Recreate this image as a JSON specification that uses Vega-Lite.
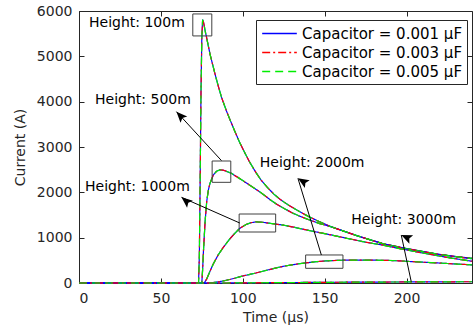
{
 "$schema": "https://vega.github.io/schema/vega-lite/v6.json",
 "width": 393,
 "height": 272,
 "autosize": {"type": "none"},
 "padding": {"left": 79, "top": 11, "right": 1, "bottom": 48},
 "background": "white",
 "config": {
  "font": "DejaVu Sans",
  "view": {"stroke": null},
  "axis": {"grid": false, "domainColor": "#262626", "tickColor": "#262626", "labelColor": "#262626", "titleColor": "#262626", "labelFont": "DejaVu Sans", "titleFont": "DejaVu Sans", "labelFontSize": 14, "titleFontSize": 14, "titleFontWeight": "normal", "tickSize": -5, "domainWidth": 1, "tickWidth": 1},
  "legend": {"title": null, "orient": "none", "legendX": 177, "legendY": 9, "symbolType": "M-2,0H2", "symbolSize": 300, "symbolOffset": 10, "labelOffset": 13, "symbolStrokeWidth": 1.5, "labelFontSize": 15, "labelFont": "DejaVu Sans", "labelColor": "black", "labelLimit": 400, "strokeColor": "#262626", "fillColor": "white", "padding": 4, "rowPadding": 1}
 },
 "datasets": {
  "curves": [
   {"h":"100m","t":0,"a":0,"b":0,"c":0},
   {"h":"100m","t":73,"a":0,"b":0,"c":0},
   {"h":"100m","t":73.5,"a":600,"b":600,"c":600},
   {"h":"100m","t":74,"a":2300,"b":2300,"c":2300},
   {"h":"100m","t":74.5,"a":4200,"b":4200,"c":4200},
   {"h":"100m","t":75,"a":5400,"b":5400,"c":5400},
   {"h":"100m","t":75.5,"a":5810,"b":5810,"c":5810},
   {"h":"100m","t":76,"a":5760,"b":5760,"c":5760},
   {"h":"100m","t":77,"a":5570,"b":5570,"c":5570},
   {"h":"100m","t":78,"a":5400,"b":5400,"c":5400},
   {"h":"100m","t":80,"a":5050,"b":5050,"c":5050},
   {"h":"100m","t":83,"a":4620,"b":4620,"c":4620},
   {"h":"100m","t":85,"a":4350,"b":4350,"c":4350},
   {"h":"100m","t":87,"a":4100,"b":4100,"c":4100},
   {"h":"100m","t":90,"a":3800,"b":3800,"c":3800},
   {"h":"100m","t":92,"a":3620,"b":3620,"c":3620},
   {"h":"100m","t":95,"a":3360,"b":3360,"c":3360},
   {"h":"100m","t":98,"a":3110,"b":3110,"c":3110},
   {"h":"100m","t":101,"a":2890,"b":2890,"c":2890},
   {"h":"100m","t":104,"a":2680,"b":2680,"c":2680},
   {"h":"100m","t":108,"a":2440,"b":2440,"c":2440},
   {"h":"100m","t":111,"a":2280,"b":2280,"c":2280},
   {"h":"100m","t":115,"a":2110,"b":2110,"c":2110},
   {"h":"100m","t":119,"a":1960,"b":1960,"c":1960},
   {"h":"100m","t":123,"a":1840,"b":1840,"c":1840},
   {"h":"100m","t":127,"a":1740,"b":1740,"c":1740},
   {"h":"100m","t":133,"a":1610,"b":1610,"c":1610},
   {"h":"100m","t":140,"a":1470,"b":1470,"c":1470},
   {"h":"100m","t":147,"a":1350,"b":1350,"c":1350},
   {"h":"100m","t":154,"a":1240,"b":1240,"c":1240},
   {"h":"100m","t":162,"a":1140,"b":1140,"c":1140},
   {"h":"100m","t":170,"a":1040,"b":1040,"c":1040},
   {"h":"100m","t":178,"a":950,"b":950,"c":950},
   {"h":"100m","t":185,"a":875,"b":875,"c":875},
   {"h":"100m","t":192,"a":820,"b":820,"c":820},
   {"h":"100m","t":200,"a":760,"b":760,"c":760},
   {"h":"100m","t":211,"a":690,"b":690,"c":690},
   {"h":"100m","t":220,"a":630,"b":630,"c":630},
   {"h":"100m","t":230,"a":585,"b":585,"c":585},
   {"h":"100m","t":240,"a":545,"b":545,"c":545},
   {"h":"500m","t":0,"a":0,"b":0,"c":0},
   {"h":"500m","t":75,"a":0,"b":0,"c":0},
   {"h":"500m","t":75.5,"a":300,"b":300,"c":300},
   {"h":"500m","t":76,"a":700,"b":700,"c":700},
   {"h":"500m","t":77,"a":1350,"b":1350,"c":1350},
   {"h":"500m","t":78,"a":1800,"b":1800,"c":1800},
   {"h":"500m","t":79,"a":2050,"b":2050,"c":2050},
   {"h":"500m","t":80,"a":2200,"b":2200,"c":2200},
   {"h":"500m","t":82,"a":2380,"b":2380,"c":2380},
   {"h":"500m","t":84,"a":2465,"b":2465,"c":2465},
   {"h":"500m","t":86,"a":2495,"b":2495,"c":2495},
   {"h":"500m","t":88,"a":2490,"b":2490,"c":2490},
   {"h":"500m","t":90,"a":2465,"b":2465,"c":2465},
   {"h":"500m","t":93,"a":2420,"b":2420,"c":2420},
   {"h":"500m","t":97,"a":2330,"b":2330,"c":2330},
   {"h":"500m","t":100,"a":2260,"b":2260,"c":2260},
   {"h":"500m","t":105,"a":2140,"b":2140,"c":2140},
   {"h":"500m","t":110,"a":2020,"b":2020,"c":2020},
   {"h":"500m","t":113,"a":1940,"b":1940,"c":1940},
   {"h":"500m","t":117,"a":1830,"b":1830,"c":1830},
   {"h":"500m","t":121,"a":1730,"b":1730,"c":1730},
   {"h":"500m","t":125,"a":1650,"b":1650,"c":1650},
   {"h":"500m","t":130,"a":1550,"b":1550,"c":1550},
   {"h":"500m","t":135,"a":1470,"b":1470,"c":1470},
   {"h":"500m","t":140,"a":1400,"b":1400,"c":1400},
   {"h":"500m","t":147,"a":1310,"b":1310,"c":1310},
   {"h":"500m","t":154,"a":1240,"b":1240,"c":1240},
   {"h":"500m","t":162,"a":1140,"b":1140,"c":1140},
   {"h":"500m","t":170,"a":1040,"b":1040,"c":1040},
   {"h":"500m","t":178,"a":950,"b":950,"c":950},
   {"h":"500m","t":185,"a":875,"b":875,"c":875},
   {"h":"500m","t":192,"a":815,"b":815,"c":815},
   {"h":"500m","t":200,"a":755,"b":755,"c":755},
   {"h":"500m","t":211,"a":685,"b":685,"c":685},
   {"h":"500m","t":220,"a":630,"b":630,"c":630},
   {"h":"500m","t":230,"a":580,"b":580,"c":580},
   {"h":"500m","t":240,"a":535,"b":535,"c":535},
   {"h":"1000m","t":0,"a":0,"b":0,"c":0},
   {"h":"1000m","t":76.5,"a":0,"b":0,"c":0},
   {"h":"1000m","t":78,"a":90,"b":90,"c":90},
   {"h":"1000m","t":80,"a":260,"b":260,"c":260},
   {"h":"1000m","t":82,"a":420,"b":420,"c":420},
   {"h":"1000m","t":85,"a":620,"b":620,"c":620},
   {"h":"1000m","t":88,"a":780,"b":780,"c":780},
   {"h":"1000m","t":92,"a":970,"b":970,"c":970},
   {"h":"1000m","t":95,"a":1090,"b":1090,"c":1090},
   {"h":"1000m","t":98,"a":1200,"b":1200,"c":1200},
   {"h":"1000m","t":102,"a":1290,"b":1290,"c":1290},
   {"h":"1000m","t":105,"a":1330,"b":1330,"c":1330},
   {"h":"1000m","t":108,"a":1348,"b":1348,"c":1348},
   {"h":"1000m","t":112,"a":1340,"b":1340,"c":1340},
   {"h":"1000m","t":118,"a":1310,"b":1310,"c":1310},
   {"h":"1000m","t":125,"a":1275,"b":1275,"c":1275},
   {"h":"1000m","t":130,"a":1240,"b":1240,"c":1240},
   {"h":"1000m","t":135,"a":1200,"b":1200,"c":1200},
   {"h":"1000m","t":145,"a":1125,"b":1125,"c":1125},
   {"h":"1000m","t":154,"a":1060,"b":1060,"c":1060},
   {"h":"1000m","t":165,"a":975,"b":975,"c":975},
   {"h":"1000m","t":175,"a":900,"b":900,"c":900},
   {"h":"1000m","t":185,"a":840,"b":840,"c":840},
   {"h":"1000m","t":195,"a":765,"b":765,"c":765},
   {"h":"1000m","t":205,"a":695,"b":695,"c":695},
   {"h":"1000m","t":220,"a":595,"b":595,"c":595},
   {"h":"1000m","t":230,"a":535,"b":535,"c":535},
   {"h":"1000m","t":240,"a":480,"b":480,"c":480},
   {"h":"2000m","t":0,"a":0,"b":0,"c":0},
   {"h":"2000m","t":79,"a":0,"b":0,"c":0},
   {"h":"2000m","t":82,"a":10,"b":10,"c":10},
   {"h":"2000m","t":86,"a":30,"b":30,"c":30},
   {"h":"2000m","t":90,"a":60,"b":60,"c":60},
   {"h":"2000m","t":95,"a":105,"b":105,"c":105},
   {"h":"2000m","t":100,"a":155,"b":155,"c":155},
   {"h":"2000m","t":105,"a":195,"b":195,"c":195},
   {"h":"2000m","t":108,"a":220,"b":220,"c":220},
   {"h":"2000m","t":115,"a":285,"b":285,"c":285},
   {"h":"2000m","t":120,"a":330,"b":330,"c":330},
   {"h":"2000m","t":125,"a":370,"b":370,"c":370},
   {"h":"2000m","t":130,"a":400,"b":400,"c":400},
   {"h":"2000m","t":135,"a":428,"b":428,"c":428},
   {"h":"2000m","t":140,"a":450,"b":450,"c":450},
   {"h":"2000m","t":145,"a":470,"b":470,"c":470},
   {"h":"2000m","t":150,"a":485,"b":485,"c":485},
   {"h":"2000m","t":155,"a":495,"b":495,"c":495},
   {"h":"2000m","t":160,"a":502,"b":502,"c":502},
   {"h":"2000m","t":167,"a":507,"b":507,"c":507},
   {"h":"2000m","t":175,"a":506,"b":506,"c":506},
   {"h":"2000m","t":187,"a":500,"b":500,"c":500},
   {"h":"2000m","t":195,"a":490,"b":490,"c":490},
   {"h":"2000m","t":204,"a":470,"b":470,"c":470},
   {"h":"2000m","t":215,"a":450,"b":450,"c":450},
   {"h":"2000m","t":225,"a":430,"b":430,"c":430},
   {"h":"2000m","t":240,"a":400,"b":400,"c":400},
   {"h":"3000m","t":0,"a":0,"b":0,"c":0},
   {"h":"3000m","t":90,"a":0,"b":0,"c":0},
   {"h":"3000m","t":100,"a":3,"b":3,"c":3},
   {"h":"3000m","t":120,"a":8,"b":8,"c":8},
   {"h":"3000m","t":150,"a":15,"b":15,"c":15},
   {"h":"3000m","t":180,"a":20,"b":20,"c":20},
   {"h":"3000m","t":210,"a":25,"b":25,"c":25},
   {"h":"3000m","t":240,"a":28,"b":28,"c":28}
  ],
  "ann": [
   {"label":"Height: 100m","t":6.1,"v":5735},
   {"label":"Height: 500m","t":9.8,"v":4037},
   {"label":"Height: 1000m","t":3.7,"v":2125},
   {"label":"Height: 2000m","t":110.4,"v":2640},
   {"label":"Height: 3000m","t":166.3,"v":1390}
  ],
  "boxes": [
   {"h":"100m","t1":69.5,"t2":81.1,"v1":5450,"v2":5935},
   {"h":"500m","t1":81.3,"t2":92.7,"v1":2221,"v2":2691},
   {"h":"1000m","t1":97.8,"t2":120.1,"v1":1125,"v2":1522},
   {"h":"2000m","t1":138.4,"t2":161.2,"v1":324,"v2":618}
  ],
  "arrows": [
   {"h":"500m","t1":87,"v1":2700,"t2":59.5,"v2":3780},
   {"h":"1000m","t1":98.2,"v1":1323,"t2":62.6,"v2":1890},
   {"h":"2000m","t1":148,"v1":618,"t2":133.7,"v2":2309},
   {"h":"3000m","t1":202.9,"v1":29,"t2":196.8,"v2":1059}
  ]
 },
 "layer": [
  {
   "data": {"name": "curves"},
   "transform": [{"fold": ["a", "b", "c"], "as": ["cap", "I"]}],
   "mark": {"type": "line", "strokeWidth": 1.2},
   "encoding": {
    "x": {"field": "t", "type": "quantitative", "scale": {"domain": [0, 240], "nice": false}, "axis": {"orient": "bottom", "values": [0, 50, 100, 150, 200], "title": "Time (μs)", "labelPadding": 13, "titlePadding": 5}},
    "y": {"field": "I", "type": "quantitative", "scale": {"domain": [0, 6000], "nice": false}, "axis": {"orient": "left", "format": "d", "values": [0, 1000, 2000, 3000, 4000, 5000, 6000], "title": "Current (A)", "labelPadding": 12, "titlePadding": 9}},
    "color": {"field": "cap", "type": "nominal", "scale": {"domain": ["a", "b", "c"], "range": ["#0000ff", "#ff0000", "#00ee00"]},
     "legend": {"labelExpr": "datum.label == 'a' ? 'Capacitor = 0.001 μF' : datum.label == 'b' ? 'Capacitor = 0.003 μF' : 'Capacitor = 0.005 μF'"}},
    "strokeDash": {"field": "cap", "type": "nominal", "scale": {"domain": ["a", "b", "c"], "range": [[1, 0], [8, 3, 2, 3], [8, 5]]},
     "legend": {"labelExpr": "datum.label == 'a' ? 'Capacitor = 0.001 μF' : datum.label == 'b' ? 'Capacitor = 0.003 μF' : 'Capacitor = 0.005 μF'"}},
    "detail": {"field": "h"}
   }
  },
  {
   "data": {"name": "boxes"},
   "mark": {"type": "rect", "fillOpacity": 0, "stroke": "#404040", "strokeWidth": 1},
   "encoding": {
    "x": {"field": "t1", "type": "quantitative", "axis": {"orient": "top", "values": [0, 50, 100, 150, 200], "labels": false, "title": null}},
    "x2": {"field": "t2"},
    "y": {"field": "v1", "type": "quantitative", "axis": {"orient": "right", "values": [0, 1000, 2000, 3000, 4000, 5000, 6000], "labels": false, "title": null}},
    "y2": {"field": "v2"}
   }
  },
  {
   "data": {"name": "arrows"},
   "mark": {"type": "rule", "color": "black", "strokeWidth": 1},
   "encoding": {
    "x": {"field": "t1", "type": "quantitative", "axis": null},
    "y": {"field": "v1", "type": "quantitative", "axis": null},
    "x2": {"field": "t2"},
    "y2": {"field": "v2"}
   }
  },
  {
   "data": {"name": "arrows"},
   "mark": {"type": "point", "filled": true, "opacity": 1, "color": "black", "size": 480, "shape": "M0,0L-0.42,1L0,0.8L0.42,1Z"},
   "encoding": {
    "x": {"field": "t2", "type": "quantitative", "axis": null},
    "y": {"field": "v2", "type": "quantitative", "axis": null},
    "angle": {"field": "h", "type": "nominal", "scale": {"domain": ["500m", "1000m", "2000m", "3000m"], "range": [317, 294, 343, 348]}, "legend": null}
   }
  },
  {
   "data": {"name": "ann"},
   "mark": {"type": "text", "align": "left", "baseline": "middle", "fontSize": 14, "font": "DejaVu Sans", "color": "black"},
   "encoding": {
    "x": {"field": "t", "type": "quantitative", "axis": null},
    "y": {"field": "v", "type": "quantitative", "axis": null},
    "text": {"field": "label"}
   }
  }
 ]
}
